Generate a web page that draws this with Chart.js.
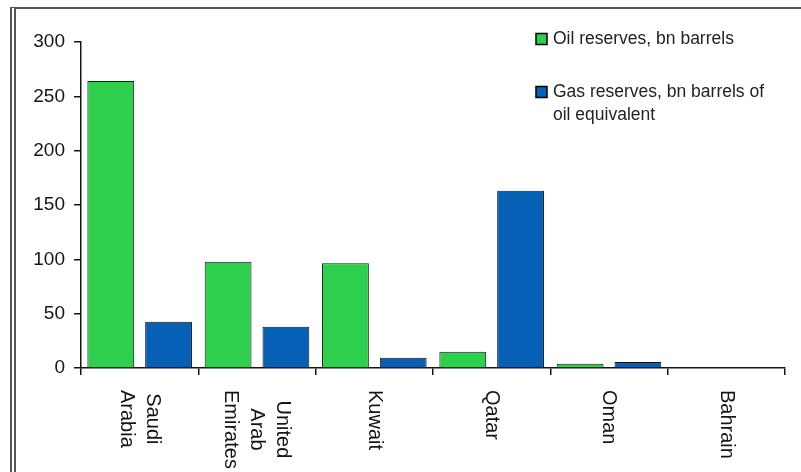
<!DOCTYPE html>
<html lang="en">
<head>
<meta charset="UTF-8">
<title>Gulf oil and gas reserves</title>
<script src="https://cdn.jsdelivr.net/npm/chart.js"></script>
<style>
    html, body { margin: 0; padding: 0; background: #fff; }
    #wrap { position: relative; width: 801px; height: 472px; }
    #frame {
        position: absolute; left: 10px; top: 7px; right: 0; bottom: 0;
        border-top: 2px solid #555;
        border-left: 6px double #555;
        pointer-events: none;
    }
    canvas { position: absolute; left: 0; top: 0; }
</style>
</head>
<body>
<div id="wrap">
    <canvas id="reserves" width="801" height="472"></canvas>
    <div id="frame"></div>
</div>
<script>
// categories (multi-line, as in the picture)
const countries = [['Saudi', 'Arabia'], ['United', 'Arab', 'Emirates'], ['Kuwait'], ['Qatar'], ['Oman'], ['Bahrain']];
// series names as they wrap in the legend
const oilName = ['Oil reserves, bn barrels'];
const gasName = ['Gas reserves, bn barrels of', 'oil equivalent'];
// values
const oilReserves = [264, 97.8, 96.5, 15, 4, 0];
const gasReserves = [42.5, 38, 9.5, 163, 5.5, 0];
const yTicks = [0, 50, 100, 150, 200, 250, 300];

const green = '#2dcf4c';
const blue = '#0560b6';
const ink = '#151515';
const font = '"Liberation Sans", Arial, sans-serif';

// category labels read top-to-bottom (rotated clockwise)
const rotatedLabels = {
    id: 'rotatedLabels',
    afterDraw(chart) {
        const ctx = chart.ctx;
        const x = chart.scales.x;
        const top = x.top + 22;
        const lh = 26;
        ctx.save();
        ctx.font = '20px ' + font;
        ctx.fillStyle = ink;
        ctx.textAlign = 'center';
        ctx.textBaseline = 'middle';
        chart.data.labels.forEach((lines, i) => {
            const cx = x.getPixelForValue(i);
            const w = Math.max(...lines.map(l => ctx.measureText(l).width));
            const n = lines.length;
            lines.forEach((line, j) => {
                const px = cx + ((n - 1) / 2 - j) * lh;
                ctx.save();
                ctx.translate(px, top + w / 2);
                ctx.rotate(Math.PI / 2);
                ctx.fillText(line, 0, 0);
                ctx.restore();
            });
        });
        ctx.restore();
    }
};

// legend box in the upper right of the plot
const sideLegend = {
    id: 'sideLegend',
    afterDraw(chart) {
        const ctx = chart.ctx;
        const names = [oilName, gasName];
        const rows = [39, 92];
        ctx.save();
        ctx.font = '17.5px ' + font;
        ctx.textBaseline = 'middle';
        chart.data.datasets.forEach((ds, i) => {
            const y = rows[i];
            ctx.fillStyle = ds.backgroundColor;
            ctx.fillRect(536, y - 5.5, 11, 11);
            ctx.strokeStyle = '#000';
            ctx.lineWidth = 1.5;
            ctx.strokeRect(536, y - 5.5, 11, 11);
            ctx.fillStyle = '#222';
            names[i].forEach((line, j) => {
                ctx.fillText(line, 553, y + j * 23);
            });
        });
        ctx.restore();
    }
};

new Chart(document.getElementById('reserves'), {
    type: 'bar',
    data: {
        labels: countries,
        datasets: [{
            label: oilName.join(' '),
            data: oilReserves,
            backgroundColor: green,
            borderColor: ink,
            borderWidth: 1,
            barPercentage: 0.81,
            categoryPercentage: 0.985
        }, {
            label: gasName.join(' '),
            data: gasReserves,
            backgroundColor: blue,
            borderColor: ink,
            borderWidth: 1,
            barPercentage: 0.81,
            categoryPercentage: 0.985
        }]
    },
    options: {
        responsive: false,
        animation: false,
        layout: { padding: { left: 0, top: 42, right: 16, bottom: 0 } },
        plugins: {
            legend: { display: false },
            tooltip: { enabled: false }
        },
        scales: {
            x: {
                ticks: { display: false },
                grid: { drawOnChartArea: false, drawTicks: true, tickLength: 7, color: ink, lineWidth: 1.5 },
                border: { color: ink, width: 1.5 },
                afterFit(scale) { scale.height = 104; }
            },
            y: {
                min: 0,
                max: 300,
                afterBuildTicks(scale) { scale.ticks = yTicks.map(v => ({ value: v })); },
                ticks: {
                    color: ink,
                    padding: 9,
                    font: { family: font, size: 19 }
                },
                grid: { drawOnChartArea: false, drawTicks: true, tickLength: 7, color: ink, lineWidth: 1.5 },
                border: { color: ink, width: 1.5 },
                afterFit(scale) { scale.width = 81; }
            }
        }
    },
    plugins: [rotatedLabels, sideLegend]
});
</script>
</body>
</html>
